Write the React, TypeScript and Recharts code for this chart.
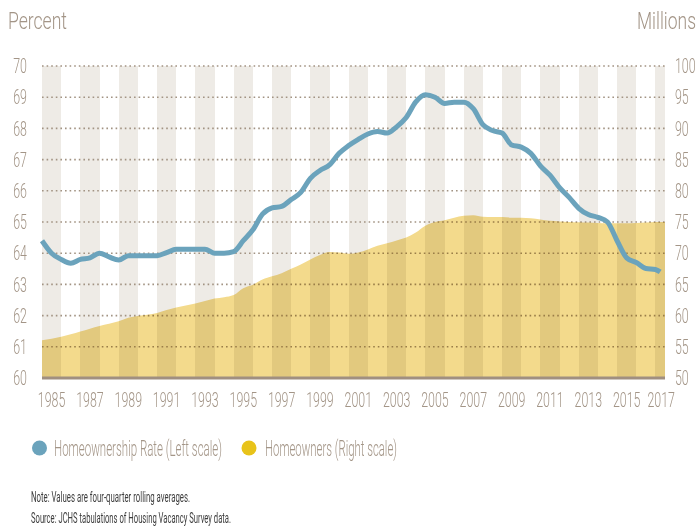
import React from 'react';
import { ComposedChart, Area, Line, XAxis, YAxis, CartesianGrid } from 'recharts';

// half-year sample points
const periods = [
  1985, 1985.5, 1986, 1986.5, 1987, 1987.5, 1988, 1988.5, 1989, 1989.5,
  1990, 1990.5, 1991, 1991.5, 1992, 1992.5, 1993, 1993.5, 1994, 1994.5,
  1995, 1995.5, 1996, 1996.5, 1997, 1997.5, 1998, 1998.5, 1999, 1999.5,
  2000, 2000.5, 2001, 2001.5, 2002, 2002.5, 2003, 2003.5, 2004, 2004.5,
  2005, 2005.5, 2006, 2006.5, 2007, 2007.5, 2008, 2008.5, 2009, 2009.5,
  2010, 2010.5, 2011, 2011.5, 2012, 2012.5, 2013, 2013.5, 2014, 2014.5,
  2015, 2015.5, 2016, 2016.5, 2017, 2017.25, 2017.5,
];

// Homeownership rate, percent (left scale)
const rate = [
  64.4, 64.0, 63.8, 63.68, 63.8, 63.85, 64.0, 63.88, 63.78, 63.92,
  63.92, 63.92, 63.92, 64.02, 64.13, 64.13, 64.13, 64.13, 64.0, 64.0,
  64.05, 64.4, 64.75, 65.25, 65.45, 65.5, 65.72, 65.95, 66.4, 66.65,
  66.83, 67.2, 67.45, 67.65, 67.82, 67.9, 67.85, 68.05, 68.35, 68.85,
  69.08, 69.0, 68.8, 68.84, 68.84, 68.63, 68.12, 67.93, 67.85, 67.47,
  67.4, 67.2, 66.8, 66.5, 66.1, 65.79, 65.44, 65.24, 65.15, 65.0,
  64.4, 63.85, 63.7, 63.51, 63.48, 63.4, null,
];

// Homeowners, millions (right scale)
const homeowners = [
  56.05, 56.3, 56.6, 57.0, 57.45, 57.9, 58.35, 58.7, 59.1, 59.65,
  59.95, 60.15, 60.4, 60.9, 61.3, 61.6, 61.93, 62.35, 62.74, 62.95,
  63.3, 64.4, 64.95, 65.8, 66.3, 66.8, 67.5, 68.2, 69.0, 69.7,
  70.2, 70.1, 69.9, 70.1, 70.6, 71.2, 71.6, 72.05, 72.5, 73.3,
  74.4, 75.0, 75.3, 75.7, 76.0, 76.1, 75.86, 75.8, 75.8, 75.7,
  75.7, 75.6, 75.4, 75.2, 75.1, 75.0, 74.95, 74.9, 74.85, 74.8,
  74.8, 74.8, 74.85, 74.9, 75.0, 75.0, 75.0,
];

const bandYears = [
  1985, 1986, 1987, 1988, 1989, 1990, 1991, 1992, 1993, 1994, 1995,
  1996, 1997, 1998, 1999, 2000, 2001, 2002, 2003, 2004, 2005, 2006,
  2007, 2008, 2009, 2010, 2011, 2012, 2013, 2014, 2015, 2016, 2017,
];
const labelYears = [
  1985, 1987, 1989, 1991, 1993, 1995, 1997, 1999, 2001, 2003, 2005,
  2007, 2009, 2011, 2013, 2015, 2017,
];
const leftTicks = [60, 61, 62, 63, 64, 65, 66, 67, 68, 69, 70];
const rightTicks = [50, 55, 60, 65, 70, 75, 80, 85, 90, 95, 100];

const START = 1985;
const END = 2017.5;

const data = periods.map((p, i) => ({ t: p, rate: rate[i], owners: homeowners[i] }));
// label sits mid-band, last one pulled in so it fits
const labelTicks = labelYears.map((y) => Math.min(y + 0.5, END - 0.2));

const TEXT = '#a39587';
const FONT = 'Roboto, "Noto Sans", sans-serif';
const SQ = 0.62;

const XTick = ({ x, y, payload }: any) => (
  <text
    transform={`translate(${x},${y}) scale(${SQ},1)`}
    textAnchor="middle"
    dy="0.71em"
    fill={TEXT}
    fontSize={20}
    fontWeight={300}
    fontFamily={FONT}
  >
    {Math.floor(payload.value)}
  </text>
);

const YTick = ({ x, y, payload, anchor }: any) => (
  <text
    transform={`translate(${x},${y}) scale(${SQ},1)`}
    textAnchor={anchor}
    dy="0.36em"
    fill={TEXT}
    fontSize={20}
    fontWeight={300}
    fontFamily={FONT}
  >
    {payload.value}
  </text>
);

export default function App() {
  return (
    <div style={{ position: 'absolute', left: 0, top: 0, width: 699, height: 527, background: '#fff' }}>
      <style>{`.recharts-area-area { mix-blend-mode: multiply; }`}</style>
      <ComposedChart
        width={699}
        height={418}
        data={data}
        margin={{ top: 66, right: 0, bottom: 0, left: 0 }}
      >
        <CartesianGrid
          xAxisId="bands"
          yAxisId="left"
          horizontal={false}
          stroke="none"
          verticalFill={['#eeebe6', '#ffffff']}
        />
        <CartesianGrid
          xAxisId="bands"
          yAxisId="left"
          vertical={false}
          stroke="#a29383"
          strokeWidth={1.6}
          strokeDasharray="1.6 3"
        />
        <XAxis
          xAxisId="bands"
          dataKey="t"
          type="number"
          domain={[START, END]}
          ticks={bandYears}
          interval={0}
          minTickGap={0}
          height={0}
          hide
        />
        <XAxis
          xAxisId="labels"
          dataKey="t"
          type="number"
          domain={[START, END]}
          ticks={labelTicks}
          height={40}
          tickLine={false}
          tickSize={0}
          tickMargin={15}
          axisLine={{ stroke: '#a08f80', strokeWidth: 3 }}
          tick={<XTick />}
          interval={0}
        />
        <YAxis
          yAxisId="left"
          orientation="left"
          width={42}
          domain={[60, 70]}
          ticks={leftTicks}
          axisLine={false}
          tickLine={false}
          tickSize={0}
          tickMargin={15}
          tick={<YTick anchor="end" />}
          interval={0}
        />
        <YAxis
          yAxisId="right"
          orientation="right"
          width={34}
          domain={[50, 100]}
          ticks={rightTicks}
          axisLine={false}
          tickLine={false}
          tickSize={0}
          tickMargin={10}
          tick={<YTick anchor="start" />}
          interval={0}
        />
        <Area
          xAxisId="bands"
          yAxisId="right"
          type="monotone"
          dataKey="owners"
          stroke="none"
          fill="#f3da8c"
          fillOpacity={1}
          isAnimationActive={false}
        />
        <Line
          xAxisId="bands"
          yAxisId="left"
          type="monotone"
          dataKey="rate"
          stroke="#6ba3bc"
          strokeWidth={5}
          dot={false}
          connectNulls={false}
          isAnimationActive={false}
        />
      </ComposedChart>
      <svg
        width={699}
        height={527}
        style={{ position: 'absolute', left: 0, top: 0, pointerEvents: 'none' }}
        fontFamily={FONT}
        fontWeight={300}
      >
        <text x={8} y={28.5} fontSize={23} fill={TEXT} textLength={59} lengthAdjust="spacingAndGlyphs">
          Percent
        </text>
        <text x={696} y={28.5} fontSize={23} fill={TEXT} textAnchor="end" textLength={59} lengthAdjust="spacingAndGlyphs">
          Millions
        </text>
        <circle cx={39.5} cy={448} r={7.5} fill="#6ba3bc" />
        <text x={54} y={456} fontSize={22} fill={TEXT} textLength={168} lengthAdjust="spacingAndGlyphs">
          Homeownership Rate (Left scale)
        </text>
        <circle cx={249} cy={448} r={7.5} fill="#e8c31a" />
        <text x={265} y={456} fontSize={22} fill={TEXT} textLength={132} lengthAdjust="spacingAndGlyphs">
          Homeowners (Right scale)
        </text>
        <text x={31} y={501.5} fontSize={15} fill="#3d3d3d" fontWeight={400} textLength={159} lengthAdjust="spacingAndGlyphs">
          Note: Values are four-quarter rolling averages.
        </text>
        <text x={31} y={523} fontSize={15} fill="#3d3d3d" fontWeight={400} textLength={200} lengthAdjust="spacingAndGlyphs">
          Source: JCHS tabulations of Housing Vacancy Survey data.
        </text>
      </svg>
    </div>
  );
}
